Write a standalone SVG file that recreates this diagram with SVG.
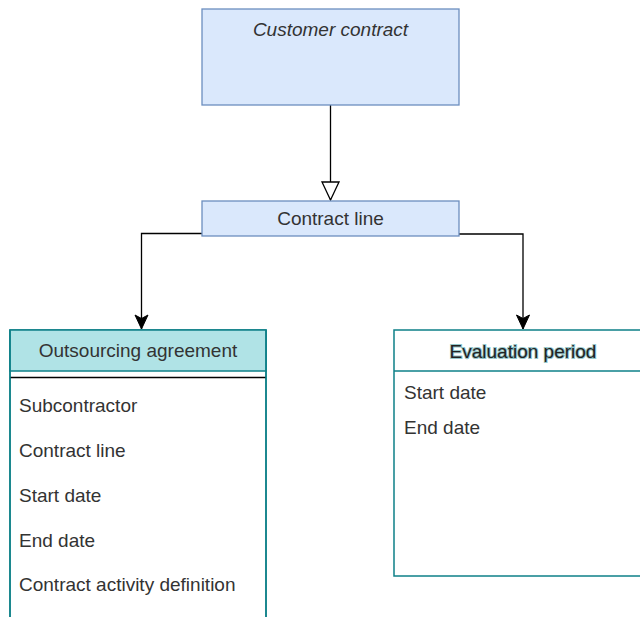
<svg xmlns="http://www.w3.org/2000/svg" width="640" height="617" viewBox="0 0 640 617">
<defs>
<style>
text{font-family:"Liberation Sans",Arial,Helvetica,sans-serif;font-size:19px;fill:#333333}
.blue{fill:#dae8fc;stroke:#6c8ebf;stroke-width:1.3}
.teal{stroke:#0e8088;stroke-width:1.5}
.edge{fill:none;stroke:#000;stroke-width:1.3}
.mid{text-anchor:middle}
.glow{stroke:#0e8088;stroke-width:2;stroke-opacity:0.45;paint-order:stroke;fill:#222}
</style>
<marker id="arr" markerUnits="userSpaceOnUse" markerWidth="14" markerHeight="14" refX="14" refY="6.5" orient="auto" overflow="visible">
<path d="M0,0 L14,6.5 L0,13 L3.5,6.5 z" fill="#000" stroke="#000" stroke-width="1"/>
</marker>
<marker id="hollow" markerUnits="userSpaceOnUse" markerWidth="19" markerHeight="18" refX="18" refY="8.5" orient="auto" overflow="visible">
<path d="M0,0 L18,8.5 L0,17 z" fill="#fff" stroke="#000" stroke-width="1.3"/>
</marker>
</defs>
<g id="connectors">
<path class="edge" d="M330.5,105 V200" marker-end="url(#hollow)"/>
<path class="edge" d="M202,233.5 H141.5 V329" marker-end="url(#arr)"/>
<path class="edge" d="M459,234 H523 V329" marker-end="url(#arr)"/>
</g>
<g id="customer-contract">
<rect class="blue" x="202" y="9" width="257" height="96"/>
<text class="mid" x="330.5" y="36" font-style="italic">Customer contract</text>
</g>
<g id="contract-line">
<rect class="blue" x="202" y="201" width="257" height="35"/>
<text class="mid" x="330.5" y="225">Contract line</text>
</g>
<g id="outsourcing-agreement">
<rect class="teal" x="10" y="330" width="256" height="320" fill="#ffffff"/>
<rect class="teal" x="10" y="330" width="256" height="41" fill="#b0e3e6"/>
<line x1="10" y1="377.5" x2="266" y2="377.5" stroke="#000" stroke-width="1.5"/>
<line x1="10" y1="330" x2="10" y2="650" class="teal"/>
<line x1="266" y1="330" x2="266" y2="650" class="teal"/>
<text class="mid" x="138" y="357">Outsourcing agreement</text>
<text x="19" y="412">Subcontractor</text>
<text x="19" y="457">Contract line</text>
<text x="19" y="501.5">Start date</text>
<text x="19" y="546.5">End date</text>
<text x="19" y="591">Contract activity definition</text>
</g>
<g id="evaluation-period">
<rect class="teal" x="394" y="330" width="258" height="246" fill="#ffffff"/>
<line class="teal" x1="394" y1="371" x2="652" y2="371"/>
<text class="mid glow" x="523" y="357.5">Evaluation period</text>
<text x="404" y="399">Start date</text>
<text x="404" y="434">End date</text>
</g>
</svg>
